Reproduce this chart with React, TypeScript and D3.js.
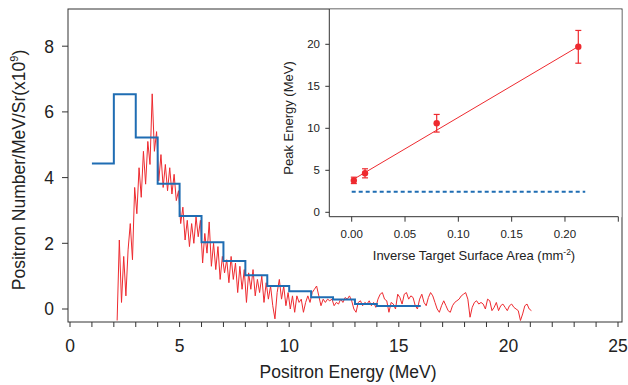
import { useEffect, useRef } from "react";
import * as d3 from "d3";

// main plot: coarse histogram (blue) and measured spectrum (red)
const binEdges = [1, 2, 3, 4, 5, 6, 7, 8, 9, 10, 11, 12, 13, 14, 15, 16];
const binCounts = [4.43, 6.54, 5.22, 3.81, 2.83, 2.03, 1.46, 1.03, 0.7, 0.54, 0.36, 0.29, 0.15, 0.09, 0.09];

const spectrumStart = 2.15; // MeV
const spectrumStep = 0.1; // MeV
const spectrumValues = [
  -0.35, 2.1, 0.2, 1.6, 0.4, 1.8, 2.6, 1.5, 3.7, 2.9,
  4.3, 3.4, 4.8, 3.8, 5.1, 4.4, 6.55, 4.8, 5.4, 3.9,
  4.7, 3.7, 4.4, 3.6, 4.3, 3.5, 4.1, 3.3, 3.6, 2.6,
  3.1, 2.1, 2.7, 1.9, 2.6, 2.0, 2.8, 2.2, 2.7, 1.4,
  2.3, 1.7, 2.65, 1.3, 2.0, 1.2, 1.9, 0.9, 1.6, 1.1,
  1.5, 0.8, 1.6, 0.9, 1.4, 0.5, 1.3, 0.6, 1.2, 0.2,
  1.1, 0.6, 1.2, 0.4, 0.9, 0.5, 1.0, 0.2, 0.8, 0.3,
  0.7, 0.1, -0.3, 0.5, 0.9, 0.3, 0.7, 0.1, 0.5, 0.0,
  0.4, -0.1, 0.4, 0.2, 0.3, -0.1, 0.2, 0.4, 0.2, 0.5,
  0.6, 0.7, 0.4, 0.1, 0.3, 0.2, 0.3, 0.25, 0.3, 0.1,
  0.2, 0.15, 0.3, 0.2, 0.35, 0.3, 0.4, 0.25, 0.0, -0.1,
  0.2, 0.25, 0.1, 0.2, 0.15, 0.25, 0.1, 0.2, 0.05, 0.3,
  0.45, 0.5, 0.3, 0.25, -0.1, 0.2, 0.15, 0.0, 0.45, 0.35,
  0.15, 0.45, 0.5, 0.3, 0.4, 0.35, 0.1, 0.0, 0.3, 0.45,
  0.2, 0.1, 0.35, 0.5, 0.4, 0.2, 0.0, -0.1, 0.1, 0.25,
  0.1, -0.05, -0.1, 0.1, 0.2, 0.25, 0.3, 0.4, 0.45, 0.5,
  0.3, -0.25, 0.05, 0.2, 0.25, 0.15, 0.2, 0.15, 0.0, 0.3,
  0.25, -0.05, 0.05, 0.2, -0.05, 0.1, 0.15, 0.05, -0.05, 0.1,
  0.15, 0.05, 0.0, -0.05, -0.35, -0.15, 0.1, 0.15, 0.0, -0.05,
];

const xTicks = [0, 5, 10, 15, 20, 25];
const xMinorTicks = d3.range(0, 26);
const yTicks = [0, 2, 4, 6, 8];

// inset: peak energy vs inverse target surface area
const insetArea = [0.002, 0.0125, 0.0797, 0.2125];
const insetPeak = [3.8, 4.64, 10.6, 19.7];
const insetErr = [0.38, 0.54, 1.05, 1.95];
const fitIntercept = 3.8;
const fitSlope = 75;
const fitRange = [0.002, 0.2125];
const thresholdEnergy = 2.45;
const thresholdRange = [0, 0.219];
const insetXTicks = [0, 0.05, 0.1, 0.15, 0.2, 0.25];
const insetYTicks = [0, 5, 10, 15, 20];

const RED = "#ee2a2f";
const BLUE = "#1f6db3";
const AXIS = "#333";
const FONT = "'Liberation Sans', Arial, Helvetica, sans-serif";

export default function App() {
  const ref = useRef<SVGSVGElement | null>(null);

  useEffect(() => {
    const svg = d3.select(ref.current);
    svg.selectAll("*").remove();

    const frame = { left: 68, right: 622, top: 9, bottom: 322 };
    const x = d3.scaleLinear().domain([0, 25]).range([70, 618]);
    const y = d3.scaleLinear().domain([0, 8]).range([309, 46.2]);

    const main = svg.append("g");

    // red spectrum
    const spectrum = spectrumValues.map((v, i) => [spectrumStart + i * spectrumStep, v] as [number, number]);
    main.append("path")
      .datum(spectrum)
      .attr("fill", "none")
      .attr("stroke", RED)
      .attr("stroke-width", 1)
      .attr("stroke-linejoin", "bevel")
      .attr("d", d3.line<[number, number]>().x((d) => x(d[0])).y((d) => y(d[1])));

    // blue histogram
    const hist = binEdges.map((e, i) => [e, binCounts[Math.min(i, binCounts.length - 1)]] as [number, number]);
    main.append("path")
      .datum(hist)
      .attr("fill", "none")
      .attr("stroke", BLUE)
      .attr("stroke-width", 2)
      .attr("d", d3.line<[number, number]>().x((d) => x(d[0])).y((d) => y(d[1])).curve(d3.curveStepAfter));

    // frame
    main.append("rect")
      .attr("x", frame.left)
      .attr("y", frame.top)
      .attr("width", frame.right - frame.left)
      .attr("height", frame.bottom - frame.top)
      .attr("fill", "none")
      .attr("stroke", AXIS)
      .attr("stroke-width", 1);

    // x ticks
    main.selectAll(".xminor")
      .data(xMinorTicks)
      .join("line")
      .attr("x1", (d) => x(d))
      .attr("x2", (d) => x(d))
      .attr("y1", frame.bottom)
      .attr("y2", frame.bottom + 5)
      .attr("stroke", AXIS);
    main.selectAll(".xlab")
      .data(xTicks)
      .join("text")
      .attr("x", (d) => x(d))
      .attr("y", 352)
      .attr("text-anchor", "middle")
      .attr("font-family", FONT)
      .attr("font-size", 17.5)
      .attr("fill", "#222")
      .text((d) => d);

    // y ticks
    main.selectAll(".ytick")
      .data(yTicks)
      .join("line")
      .attr("x1", frame.left - 6)
      .attr("x2", frame.left)
      .attr("y1", (d) => y(d))
      .attr("y2", (d) => y(d))
      .attr("stroke", AXIS);
    main.selectAll(".ylab")
      .data(yTicks)
      .join("text")
      .attr("x", 54)
      .attr("y", (d) => y(d) + 6.3)
      .attr("text-anchor", "end")
      .attr("font-family", FONT)
      .attr("font-size", 17.5)
      .attr("fill", "#222")
      .text((d) => d);

    main.append("text")
      .attr("x", 348)
      .attr("y", 378)
      .attr("text-anchor", "middle")
      .attr("font-family", FONT)
      .attr("font-size", 17.5)
      .attr("fill", "#222")
      .text("Positron Energy (MeV)");

    const yl = main.append("text")
      .attr("transform", "translate(25,170) rotate(-90)")
      .attr("text-anchor", "middle")
      .attr("font-family", FONT)
      .attr("font-size", 17.5)
      .attr("fill", "#222");
    yl.append("tspan").text("Positron Number/MeV/Sr(x10");
    yl.append("tspan").attr("font-size", 11).attr("dy", -7).text("9");
    yl.append("tspan").attr("dy", 7).text(")");

    // inset
    const ix = d3.scaleLinear().domain([0, 0.25]).range([351.7, 618.3]);
    const iy = d3.scaleLinear().domain([0, 20]).range([212.3, 44.3]);
    const inset = { left: 329.3, right: 618.3, top: 9, bottom: 216.7 };
    const g = svg.append("g");

    g.append("rect")
      .attr("x", inset.left)
      .attr("y", inset.top + 0.5)
      .attr("width", frame.right - 0.5 - inset.left)
      .attr("height", inset.bottom - inset.top)
      .attr("fill", "white");

    g.append("line")
      .attr("x1", ix(thresholdRange[0]))
      .attr("x2", ix(thresholdRange[1]))
      .attr("y1", iy(thresholdEnergy))
      .attr("y2", iy(thresholdEnergy))
      .attr("stroke", BLUE)
      .attr("stroke-width", 2)
      .attr("stroke-dasharray", "4,3");

    g.append("line")
      .attr("x1", ix(fitRange[0]))
      .attr("x2", ix(fitRange[1]))
      .attr("y1", iy(fitIntercept + fitSlope * fitRange[0]))
      .attr("y2", iy(fitIntercept + fitSlope * fitRange[1]))
      .attr("stroke", RED)
      .attr("stroke-width", 1);

    const pts = insetArea.map((a, i) => ({ a, p: insetPeak[i], e: insetErr[i] }));
    const eb = g.selectAll(".eb").data(pts).join("g");
    eb.append("line")
      .attr("x1", (d) => ix(d.a))
      .attr("x2", (d) => ix(d.a))
      .attr("y1", (d) => iy(d.p - d.e))
      .attr("y2", (d) => iy(d.p + d.e))
      .attr("stroke", RED)
      .attr("stroke-width", 1.2);
    [-1, 1].forEach((s) => {
      eb.append("line")
        .attr("x1", (d) => ix(d.a) - 3)
        .attr("x2", (d) => ix(d.a) + 3)
        .attr("y1", (d) => iy(d.p + s * d.e))
        .attr("y2", (d) => iy(d.p + s * d.e))
        .attr("stroke", RED)
        .attr("stroke-width", 1.2);
    });
    eb.append("circle")
      .attr("cx", (d) => ix(d.a))
      .attr("cy", (d) => iy(d.p))
      .attr("r", 3.2)
      .attr("fill", RED);

    g.append("line")
      .attr("x1", inset.left)
      .attr("x2", inset.left)
      .attr("y1", inset.top)
      .attr("y2", inset.bottom)
      .attr("stroke", AXIS);
    g.append("line")
      .attr("x1", inset.left)
      .attr("x2", inset.right)
      .attr("y1", inset.bottom)
      .attr("y2", inset.bottom)
      .attr("stroke", AXIS);

    g.selectAll(".ixt")
      .data(insetXTicks)
      .join("line")
      .attr("x1", (d) => ix(d))
      .attr("x2", (d) => ix(d))
      .attr("y1", inset.bottom)
      .attr("y2", inset.bottom + 5)
      .attr("stroke", AXIS);
    g.selectAll(".ixl")
      .data(insetXTicks.slice(0, 5))
      .join("text")
      .attr("x", (d) => ix(d))
      .attr("y", 237.5)
      .attr("text-anchor", "middle")
      .attr("font-family", FONT)
      .attr("font-size", 11.5)
      .attr("fill", "#222")
      .text((d) => d3.format(".2f")(d));

    g.selectAll(".iyt")
      .data(insetYTicks)
      .join("line")
      .attr("x1", inset.left - 4)
      .attr("x2", inset.left)
      .attr("y1", (d) => iy(d))
      .attr("y2", (d) => iy(d))
      .attr("stroke", AXIS);
    g.selectAll(".iyl")
      .data(insetYTicks)
      .join("text")
      .attr("x", 320)
      .attr("y", (d) => iy(d) + 4)
      .attr("text-anchor", "end")
      .attr("font-family", FONT)
      .attr("font-size", 11.5)
      .attr("fill", "#222")
      .text((d) => d);

    const il = g.append("text")
      .attr("x", 474)
      .attr("y", 260)
      .attr("text-anchor", "middle")
      .attr("font-family", FONT)
      .attr("font-size", 13)
      .attr("fill", "#222");
    il.append("tspan").text("Inverse Target Surface Area (mm");
    il.append("tspan").attr("font-size", 8.5).attr("dy", -5).text("-2");
    il.append("tspan").attr("dy", 5).text(")");

    g.append("text")
      .attr("transform", "translate(293,118) rotate(-90)")
      .attr("text-anchor", "middle")
      .attr("font-family", FONT)
      .attr("font-size", 13)
      .attr("fill", "#222")
      .text("Peak Energy (MeV)");
  }, []);

  return (
    <svg
      ref={ref}
      width={628}
      height={385}
      style={{ position: "absolute", left: 0, top: 0, background: "white" }}
    />
  );
}
